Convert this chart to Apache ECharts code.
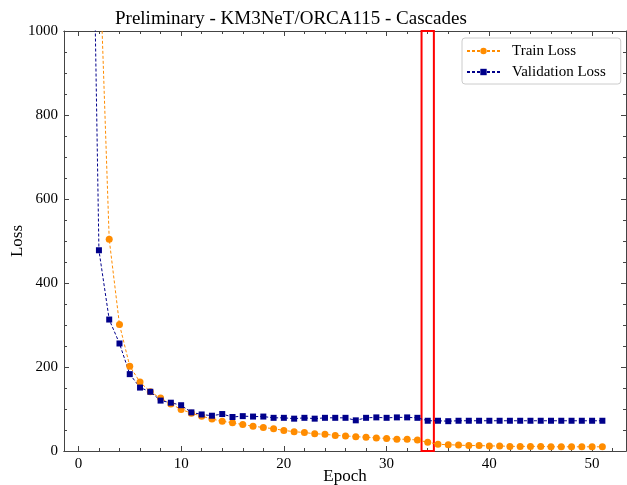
<!DOCTYPE html>
<html>
<head>
<meta charset="utf-8">
<script src="https://cdn.jsdelivr.net/npm/echarts@6/dist/echarts.min.js"></script>
<style>
html, body { margin: 0; padding: 0; background: #fff; }
#chart { width: 627px; height: 485px; }
</style>
</head>
<body>
<div id="chart"></div>
<script>
var epochs = [];
for (var i = 1; i <= 51; i++) epochs.push(i);

var trainLoss = [2500, 1223, 504, 301, 202, 164, 141, 126, 112, 99,
  90, 83, 76, 71, 67, 63, 59, 56, 53, 49,
  46, 44, 41, 40, 37, 36, 34, 33, 31, 30,
  28, 28, 26, 21, 16, 15, 14, 13, 13, 12,
  12, 11, 11, 11, 11, 10, 10, 10, 10, 10, 10];

var valLoss = [1970, 478, 313, 256, 183, 151, 141, 120, 115, 109,
  92, 87, 84, 88, 81, 83, 82, 82, 79, 79,
  77, 79, 77, 79, 79, 79, 73, 79, 80, 79,
  80, 80, 79, 72, 72, 71, 72, 72, 72, 72,
  72, 72, 72, 72, 72, 72, 72, 72, 72, 72, 72];

var xMajorTicks = [0, 10, 20, 30, 40, 50];
var xMinorTicks = [];
for (var m = 0; m <= 52; m += 2) xMinorTicks.push(m);

var highlightEpochs = [33.4, 34.6];

var serif = 'Liberation Serif';
var frame = '#444';

function pairs(ys) {
  return epochs.map(function (x, k) { return [x, ys[k]]; });
}

function xAx(pos, ticks, len, withLabels) {
  return {
    type: 'value', position: pos, min: -1.4, max: 53.3,
    axisLine: { show: true, onZero: false, lineStyle: { color: frame, width: 1 } },
    axisTick: { show: true, inside: true, length: len, customValues: ticks, lineStyle: { color: frame } },
    axisLabel: withLabels
      ? { show: true, customValues: ticks, color: '#000', fontFamily: serif, fontSize: 15, margin: 6 }
      : { show: false },
    splitLine: { show: false }
  };
}

function yAx(pos, withLabels) {
  var ax = {
    type: 'value', position: pos, min: 0, max: 1000, interval: 200,
    axisLine: { show: true, onZero: false, lineStyle: { color: frame, width: 1 } },
    axisTick: { show: true, inside: true, length: 5, lineStyle: { color: frame } },
    minorTick: { show: true, splitNumber: 4, length: 3, lineStyle: { color: frame } },
    axisLabel: withLabels
      ? { color: '#000', fontFamily: serif, fontSize: 15, margin: 6, formatter: function (v) { return String(v); } }
      : { show: false },
    splitLine: { show: false }
  };
  return ax;
}

var myChart = echarts.init(document.getElementById('chart'));
var xBottom = xAx('bottom', xMajorTicks, 5, true);
xBottom.name = 'Epoch';
xBottom.nameLocation = 'middle';
xBottom.nameGap = 17;
xBottom.nameMoveOverlap = false;
xBottom.nameTextStyle = { color: '#000', fontFamily: serif, fontSize: 17 };

var yLeft = yAx('left', true);
yLeft.name = 'Loss';
yLeft.nameLocation = 'middle';
yLeft.nameGap = 38;
yLeft.nameRotate = 90;
yLeft.nameMoveOverlap = false;
yLeft.nameTextStyle = { color: '#000', fontFamily: serif, fontSize: 17 };

option = {
  backgroundColor: '#fff',
  animation: false,
  title: {
    text: 'Preliminary - KM3NeT/ORCA115 - Cascades',
    left: 110, top: 5,
    textStyle: { color: '#000', fontFamily: serif, fontSize: 19, fontWeight: 'normal' }
  },
  legend: {
    orient: 'vertical', left: 462, top: 38,
    padding: [5, 15, 4, 4],
    itemGap: 5, itemWidth: 33, itemHeight: 8,
    borderColor: '#ccc', borderWidth: 1, borderRadius: 3,
    backgroundColor: '#fff',
    textStyle: { color: '#000', fontFamily: serif, fontSize: 15, lineHeight: 16, padding: [0, 0, 0, 7] },
    data: ['Train Loss', 'Validation Loss']
  },
  grid: { left: 64, right: 1, top: 31, bottom: 34, outerBoundsMode: 'none', containLabel: false },
  xAxis: [
    xBottom,
    xAx('bottom', xMinorTicks, 3, false),
    xAx('top', xMajorTicks, 5, false),
    xAx('top', xMinorTicks, 3, false)
  ],
  yAxis: [yLeft, yAx('right', false)],
  series: [
    {
      name: 'Train Loss', type: 'line', xAxisIndex: 0, yAxisIndex: 0,
      data: pairs(trainLoss),
      symbol: 'circle', symbolSize: 7,
      itemStyle: { color: '#FF8C00' },
      lineStyle: { color: '#FF8C00', width: 1, type: [3, 2] },
      markArea: {
        silent: true,
        itemStyle: { color: 'rgba(0,0,0,0)', borderColor: '#ff0000', borderWidth: 2 },
        data: [[{ xAxis: highlightEpochs[0], yAxis: 0 }, { xAxis: highlightEpochs[1], yAxis: 1000 }]]
      }
    },
    {
      name: 'Validation Loss', type: 'line', xAxisIndex: 0, yAxisIndex: 0,
      data: pairs(valLoss),
      symbol: 'rect', symbolSize: 6,
      itemStyle: { color: '#00008B' },
      lineStyle: { color: '#00008B', width: 1, type: [3, 2] }
    }
  ]
};
myChart.setOption(option);
</script>
</body>
</html>
